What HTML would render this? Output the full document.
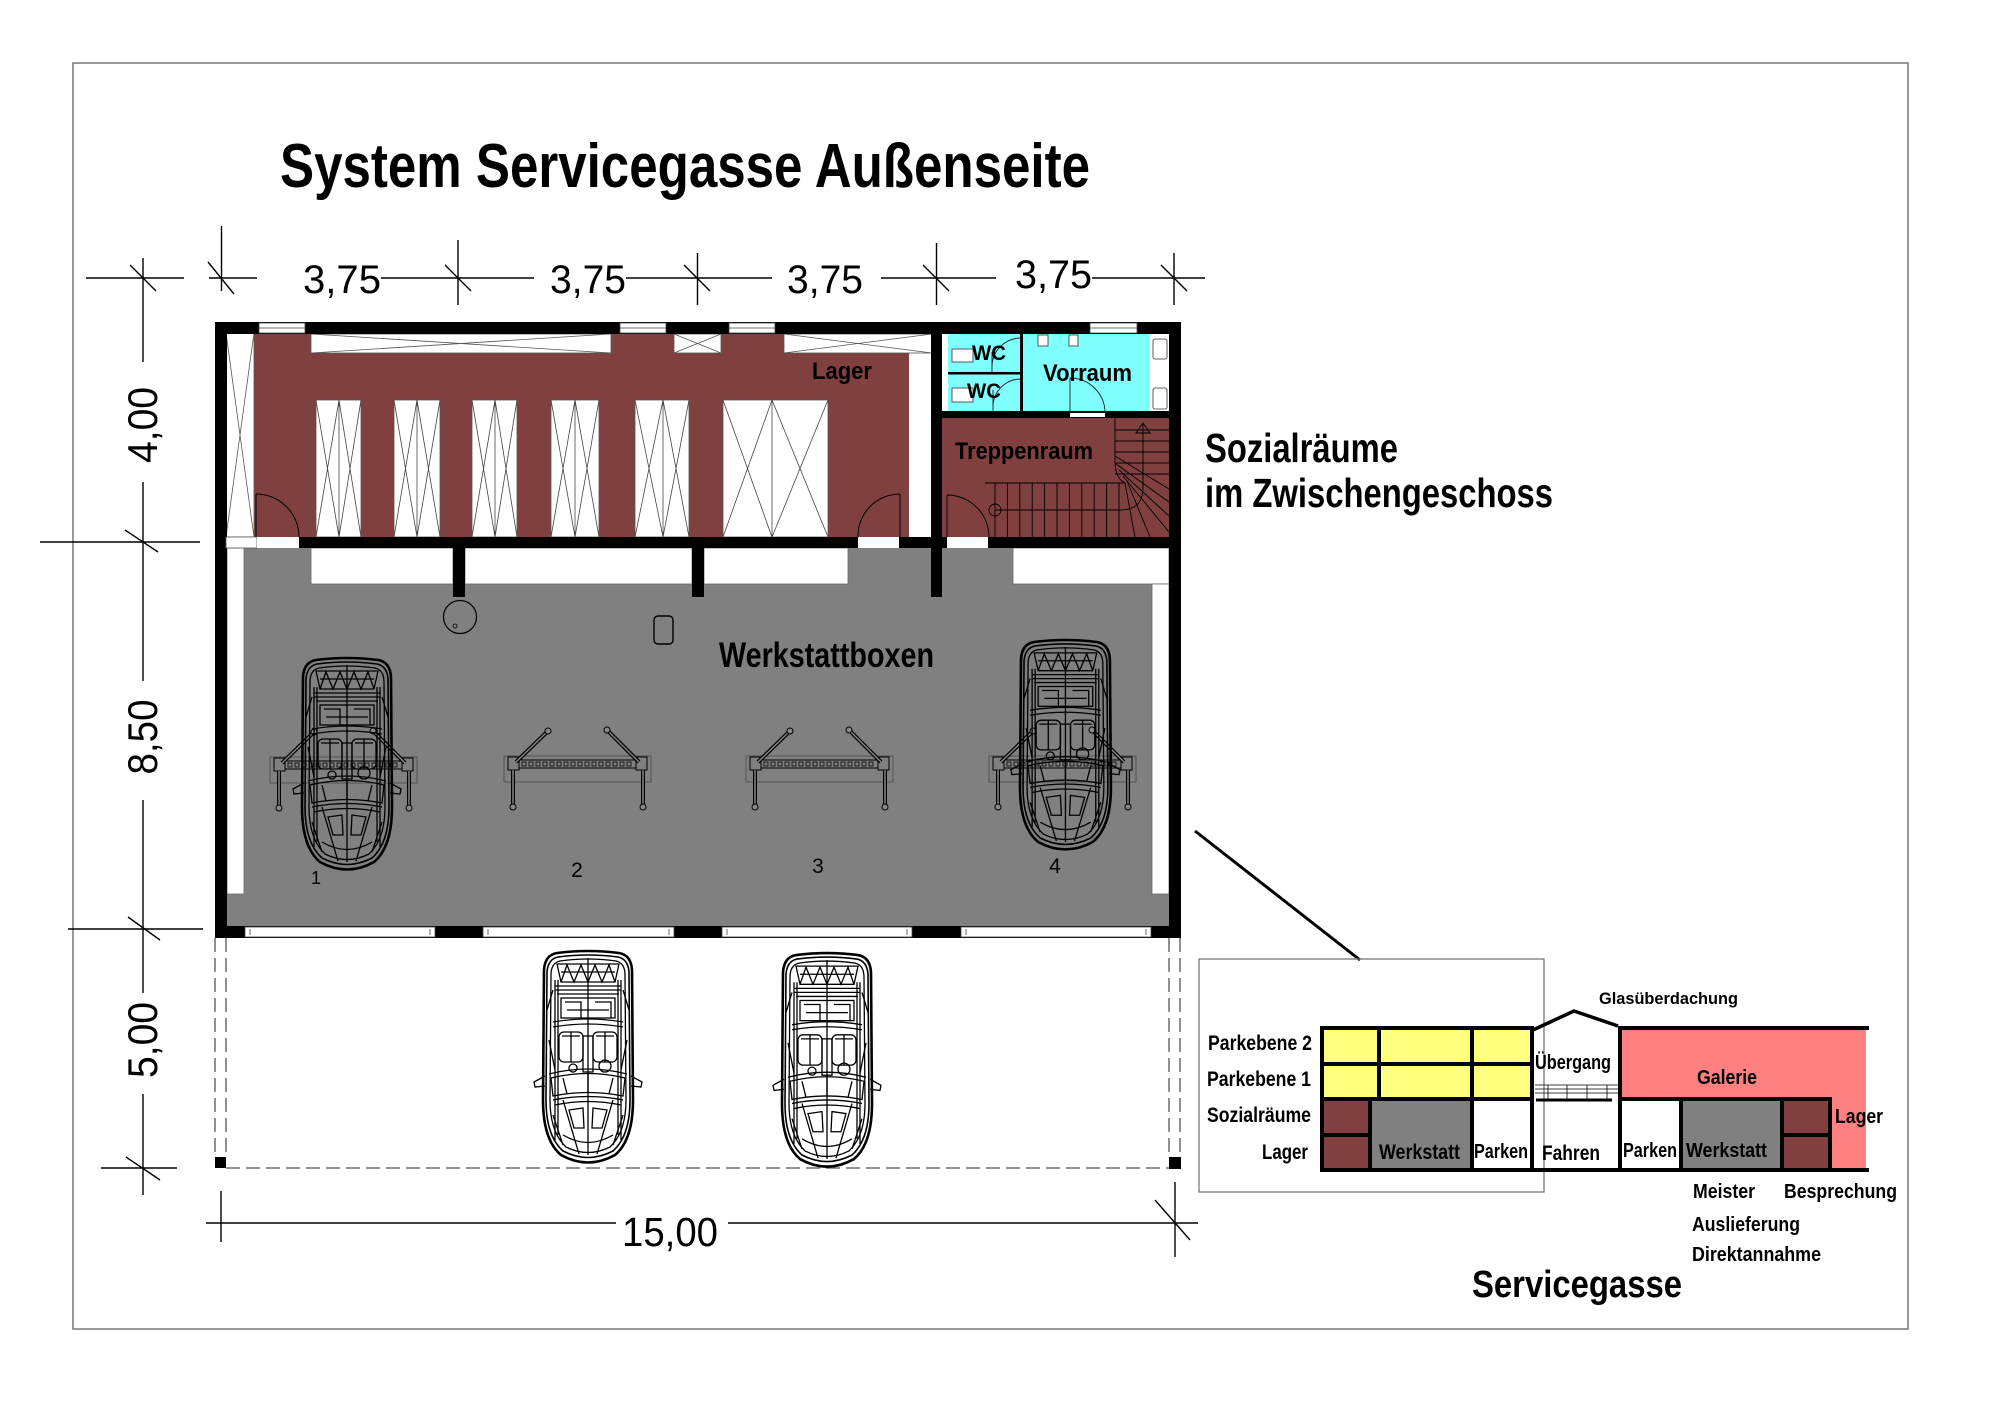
<!DOCTYPE html>
<html><head><meta charset="utf-8"><style>
html,body{margin:0;padding:0;background:#fff;}
svg{display:block;}
.b{font-family:'Liberation Sans Narrow','Liberation Sans',Arial,sans-serif;font-weight:bold;fill:#000;}
.r{font-family:'Liberation Sans',Arial,sans-serif;fill:#000;}
</style></head><body>
<svg width="2005" height="1417" viewBox="0 0 2005 1417" xmlns="http://www.w3.org/2000/svg">
<defs>
<g id="car" fill="none" stroke="#000" stroke-width="1.3">
<path d="M14,3 Q45,-1 76,3 Q88,5 89,20 L90,150 Q90,190 72,205 Q45,220 18,205 Q0,190 0,150 L1,20 Q2,5 14,3Z" stroke-width="2.6"/>
<path d="M15,7 Q45,3 75,7 Q85,9 86,22 L87,150 Q87,186 70,201 Q45,214 20,201 Q3,186 3,150 L4,22 Q5,9 15,7Z" stroke-width="1.6"/>
<path d="M17,11 Q45,7 73,11 Q82,13 82,25 L83,150 Q83,182 67,197 Q45,208 23,197 Q7,182 7,150 L8,25 Q8,13 17,11Z"/>
<path d="M14,14 L76,14 L72,32 L18,32Z"/>
<polyline points="18,32 24,15 31,32 38,15 45,32 52,15 59,32 66,15 72,32"/>
<line x1="18" y1="22" x2="72" y2="22"/>
<path d="M12,36 L78,36 M14,44 L76,44 M12,40 L78,40"/>
<rect x="18" y="48" width="54" height="20"/>
<path d="M22,52 L38,52 L38,68 M52,52 L68,52 L68,68 M24,60 L66,60"/>
<path d="M10,72 Q45,66 80,72 M10,77 Q45,71 80,77"/>
<rect x="16" y="82" width="24" height="30" rx="5"/>
<rect x="50" y="82" width="24" height="30" rx="5"/>
<path d="M19,86 L37,86 M53,86 L71,86 M28,82 V112 M62,82 V112"/>
<rect x="40" y="86" width="10" height="36"/>
<circle cx="62" cy="116" r="6"/>
<circle cx="30" cy="118" r="4"/>
<path d="M6,124 Q45,114 84,124"/>
<path d="M8,128 Q45,119 82,128 L80,146 Q45,139 10,146Z"/>
<path d="M20,128 L24,144 M70,128 L66,144 M45,122 L45,142"/>
<path d="M2,126 L-9,132 L-8,137 L2,136 M88,126 L99,132 L98,137 L88,136"/>
<path d="M10,150 Q45,143 80,150 M12,155 Q45,148 78,155"/>
<path d="M26,160 L40,158 L41,178 L31,178Z M50,158 L64,160 L59,178 L49,178Z"/>
<path d="M45,8 L45,205"/>
<path d="M12,30 L12,190 M78,30 L78,190 M15,30 L15,185 M75,30 L75,185"/>
<path d="M20,150 L36,204 M70,150 L54,204"/>
<path d="M10,40 L4,60 M80,40 L86,60 M6,90 L12,120 M84,90 L78,120"/>
<path d="M20,185 Q45,200 70,185 M10,165 L20,195 M80,165 L70,195"/>
</g>
<g id="lift">
<rect x="0" y="0" width="147" height="26" fill="none" stroke="#555" stroke-width="1"/>
<rect x="15" y="4" width="117" height="8" fill="none" stroke="#000" stroke-width="1"/>
<g fill="none" stroke="#000" stroke-width="0.8">
<rect x="18" y="6" width="4" height="4"/><rect x="25" y="6" width="4" height="4"/><rect x="32" y="6" width="4" height="4"/><rect x="39" y="6" width="4" height="4"/><rect x="46" y="6" width="4" height="4"/><rect x="53" y="6" width="4" height="4"/><rect x="60" y="6" width="4" height="4"/><rect x="67" y="6" width="4" height="4"/><rect x="74" y="6" width="4" height="4"/><rect x="81" y="6" width="4" height="4"/><rect x="88" y="6" width="4" height="4"/><rect x="95" y="6" width="4" height="4"/><rect x="102" y="6" width="4" height="4"/><rect x="109" y="6" width="4" height="4"/><rect x="116" y="6" width="4" height="4"/><rect x="123" y="6" width="4" height="4"/>
</g>
<rect x="4" y="1" width="11" height="13" fill="#808080" stroke="#000" stroke-width="1"/>
<rect x="132" y="1" width="11" height="13" fill="#808080" stroke="#000" stroke-width="1"/>
<line x1="12" y1="6" x2="44" y2="-25" stroke="#000" stroke-width="4"/>
<line x1="12" y1="6" x2="44" y2="-25" stroke="#888" stroke-width="1.5"/>
<circle cx="44" cy="-25" r="3" fill="#888" stroke="#000"/>
<line x1="135" y1="6" x2="103" y2="-26" stroke="#000" stroke-width="4"/>
<line x1="135" y1="6" x2="103" y2="-26" stroke="#888" stroke-width="1.5"/>
<circle cx="103" cy="-26" r="3" fill="#888" stroke="#000"/>
<line x1="9" y1="14" x2="9" y2="49" stroke="#000" stroke-width="4"/>
<line x1="9" y1="14" x2="9" y2="49" stroke="#888" stroke-width="1.5"/>
<circle cx="9" cy="51" r="3" fill="#888" stroke="#000"/>
<line x1="139" y1="14" x2="139" y2="49" stroke="#000" stroke-width="4"/>
<line x1="139" y1="14" x2="139" y2="49" stroke="#888" stroke-width="1.5"/>
<circle cx="139" cy="51" r="3" fill="#888" stroke="#000"/>
</g>
</defs>

<rect x="0" y="0" width="2005" height="1417" fill="#fff"/>
<rect x="73" y="63" width="1835" height="1266" fill="none" stroke="#777" stroke-width="1.5"/>

<text class="b" x="280" y="187" font-size="62" textLength="810" lengthAdjust="spacingAndGlyphs">System Servicegasse Außenseite</text>

<g stroke="#000" stroke-width="1.4" fill="none">
<path d="M86,278 H184 M209,278 H257 M381,278 H534 M626,278 H772 M881,278 H996 M1092,278 H1205"/>
<path d="M221.5,226 V291 M458,240 V305 M697.5,253 V305 M936.5,243 V305 M1174,253 V305"/>
<path d="M208,262 L234,294 M445,265 L471,291 M684,265 L710,291 M923,265 L949,291 M1161,265 L1187,291 M130,265 L156,291"/>
</g>
<text class="r" x="303" y="293" font-size="40" textLength="78" lengthAdjust="spacingAndGlyphs">3,75</text>
<text class="r" x="550" y="293" font-size="40" textLength="76" lengthAdjust="spacingAndGlyphs">3,75</text>
<text class="r" x="787" y="293" font-size="40" textLength="76" lengthAdjust="spacingAndGlyphs">3,75</text>
<text class="r" x="1015" y="288" font-size="40" textLength="77" lengthAdjust="spacingAndGlyphs">3,75</text>

<g stroke="#000" stroke-width="1.4" fill="none">
<path d="M143,258 V362 M143,482 V681 M143,800 V993 M143,1094 V1195"/>
<path d="M40,542 H200 M68,929 H203 M101,1168 H177"/>
<path d="M125,530 L158,552 M128,917 L160,940 M126,1157 L160,1180"/>
</g>
<text class="r" transform="translate(157,425) rotate(-90)" text-anchor="middle" font-size="42" textLength="76" lengthAdjust="spacingAndGlyphs">4,00</text>
<text class="r" transform="translate(157,737) rotate(-90)" text-anchor="middle" font-size="42" textLength="75" lengthAdjust="spacingAndGlyphs">8,50</text>
<text class="r" transform="translate(157,1040) rotate(-90)" text-anchor="middle" font-size="42" textLength="76" lengthAdjust="spacingAndGlyphs">5,00</text>

<g stroke="#000" stroke-width="1.4" fill="none">
<path d="M206,1223 H616 M728,1223 H1198"/>
<path d="M221,1191 V1242 M1175,1182 V1257 M1155,1200 L1190,1240"/>
</g>
<text class="r" x="622" y="1246" font-size="41" textLength="96" lengthAdjust="spacingAndGlyphs">15,00</text>

<!-- Lager -->
<rect x="226" y="333" width="705" height="204" fill="#804040"/>
<rect x="226" y="333" width="28" height="204" fill="#fff" stroke="#555" stroke-width="0.8"/>
<path d="M226,333 L254,537 M254,333 L226,537" stroke="#555" stroke-width="0.8"/>
<rect x="909" y="353" width="22" height="184" fill="#fff"/>
<g fill="#fff" stroke="#555" stroke-width="0.8">
<rect x="311" y="334" width="300" height="19"/>
<rect x="674" y="334" width="47" height="19"/>
<rect x="784" y="334" width="148" height="19"/>
</g>
<path d="M311,334 L611,353 M611,334 L311,353 M674,334 L721,353 M721,334 L674,353 M784,334 L932,353 M932,334 L784,353" stroke="#555" stroke-width="0.8" fill="none"/>
<g fill="#fff" stroke="#555" stroke-width="0.8">
<rect x="316" y="400" width="45" height="137"/>
<rect x="394" y="400" width="46" height="137"/>
<rect x="472" y="400" width="45" height="137"/>
<rect x="551" y="400" width="48" height="137"/>
<rect x="635" y="400" width="54" height="137"/>
<rect x="723" y="400" width="105" height="137"/>
</g>
<g stroke="#444" stroke-width="0.8" fill="none">
<path d="M339,400 V537 M316,400 L339,537 M339,400 L316,537 M339,400 L361,537 M361,400 L339,537"/>
<path d="M417,400 V537 M394,400 L417,537 M417,400 L394,537 M417,400 L440,537 M440,400 L417,537"/>
<path d="M495,400 V537 M472,400 L495,537 M495,400 L472,537 M495,400 L517,537 M517,400 L495,537"/>
<path d="M575,400 V537 M551,400 L575,537 M575,400 L551,537 M575,400 L599,537 M599,400 L575,537"/>
<path d="M663,400 V537 M635,400 L663,537 M663,400 L635,537 M663,400 L689,537 M689,400 L663,537"/>
<path d="M772,400 V537 M723,400 L772,537 M772,400 L723,537 M772,400 L828,537 M828,400 L772,537"/>
</g>
<g stroke="#000" stroke-width="1" fill="none">
<path d="M256,494 V537 M256,494 A43,43 0 0,1 299,537"/>
<path d="M900,494 V537 M900,494 A42,42 0 0,0 858,537"/>
</g>
<text class="b" x="812" y="379" font-size="24" textLength="60" lengthAdjust="spacingAndGlyphs">Lager</text>

<!-- Sozial -->
<rect x="942" y="334" width="227" height="77" fill="#fff"/>
<rect x="948" y="334" width="73" height="77" fill="#80ffff"/>
<rect x="1023" y="334" width="127" height="77" fill="#80ffff"/>
<rect x="1020" y="334" width="3" height="77" fill="#000"/>
<rect x="948" y="372" width="75" height="2.5" fill="#000"/>
<rect x="942" y="411" width="227" height="7" fill="#000"/>
<rect x="1070" y="413" width="35" height="4" fill="#fff"/>
<rect x="942" y="418" width="227" height="119" fill="#804040"/>
<g fill="#fff" stroke="#333" stroke-width="0.8">
<rect x="952" y="349" width="21" height="13"/>
<rect x="952" y="388" width="21" height="14"/>
<rect x="1038" y="335" width="10" height="11"/>
<rect x="1069" y="335" width="9" height="11"/>
<rect x="1153" y="339" width="14" height="20" rx="2"/>
<rect x="1153" y="388" width="14" height="21" rx="2"/>
</g>
<g stroke="#222" stroke-width="0.9" fill="none">
<path d="M1021,338 A29,29 0 0,0 992,367 M992,352 V372"/>
<path d="M1021,379 A28,28 0 0,0 993,407 M993,390 V411"/>
<path d="M1070,378 V413 M1070,378 A35,35 0 0,1 1105,413"/>
</g>
<text class="b" x="972" y="360" font-size="21" textLength="34" lengthAdjust="spacingAndGlyphs">WC</text>
<text class="b" x="967" y="398" font-size="21" textLength="34" lengthAdjust="spacingAndGlyphs">WC</text>
<text class="b" x="1043" y="381" font-size="24" textLength="89" lengthAdjust="spacingAndGlyphs">Vorraum</text>
<g stroke="#000" stroke-width="0.9" fill="none">
<path d="M985,483 H1125 Q1115,478 1115,461 V418"/>
<path d="M995,483 V537 M1007.4,483 V537 M1019.8,483 V537 M1032.2,483 V537 M1044.6,483 V537 M1057,483 V537 M1069.4,483 V537 M1081.8,483 V537 M1094.2,483 V537 M1106.6,483 V537 M1119,483 V537"/>
<path d="M1125,483 L1135,537 M1127,481 L1150,537 M1123,476 L1169,532 M1119,470 L1169,516 M1116,464 L1169,502 M1115,456 L1169,489"/>
<path d="M1115,430 H1169 M1115,441 H1169 M1115,452 H1169 M1115,463 H1169 M1115,474 H1169"/>
<path d="M995,510 H1120 Q1143,510 1143,488 V424"/>
<path d="M1136,433 L1143,423 L1150,433 Z"/>
<circle cx="995" cy="510" r="6"/>
<path d="M947,495 V537 M947,495 A42,42 0 0,1 989,537"/>
</g>
<text class="b" x="955" y="459" font-size="24" textLength="138" lengthAdjust="spacingAndGlyphs">Treppenraum</text>

<!-- Werkstatt -->
<rect x="227" y="548" width="942" height="378" fill="#808080"/>
<g fill="#fff" stroke="#666" stroke-width="0.8">
<rect x="227" y="548" width="17" height="346"/>
<rect x="311" y="548" width="142" height="36"/>
<rect x="465" y="548" width="227" height="36"/>
<rect x="704" y="548" width="144" height="36"/>
<rect x="1013" y="548" width="156" height="36"/>
<rect x="1152" y="584" width="17" height="310"/>
</g>
<circle cx="460" cy="617" r="16.5" fill="none" stroke="#000" stroke-width="1.2"/>
<circle cx="455" cy="626" r="2" fill="none" stroke="#000" stroke-width="0.8"/>
<rect x="654" y="616" width="19" height="28" rx="4" fill="none" stroke="#000" stroke-width="1.4"/>
<text class="b" x="719" y="667" font-size="35" textLength="215" lengthAdjust="spacingAndGlyphs">Werkstattboxen</text>

<use href="#lift" transform="translate(270,757)"/>
<use href="#lift" transform="translate(504,756)"/>
<use href="#lift" transform="translate(746,756)"/>
<use href="#lift" transform="translate(989,756)"/>
<use href="#car" transform="translate(302,657)"/>
<use href="#car" transform="translate(1020,639) scale(1.01,0.99)"/>

<text class="r" x="316" y="884" font-size="18" text-anchor="middle">1</text>
<text class="r" x="577" y="877" font-size="21" text-anchor="middle">2</text>
<text class="r" x="818" y="873" font-size="21" text-anchor="middle">3</text>
<text class="r" x="1055" y="873" font-size="21" text-anchor="middle">4</text>

<!-- walls -->
<g fill="#000">
<rect x="215" y="322" width="966" height="12"/>
<rect x="215" y="322" width="12" height="616"/>
<rect x="1169" y="322" width="12" height="616"/>
<rect x="931" y="334" width="11" height="263"/>
<rect x="215" y="537" width="966" height="11"/>
<rect x="453" y="548" width="12" height="49"/>
<rect x="692" y="548" width="12" height="49"/>
<rect x="215" y="926" width="966" height="12"/>
</g>
<rect x="226" y="537" width="31" height="11" fill="#fff" stroke="#555" stroke-width="0.8"/>
<rect x="257" y="537" width="42" height="11" fill="#fff"/>
<rect x="858" y="537" width="41" height="11" fill="#fff"/>
<rect x="947" y="537" width="41" height="11" fill="#fff"/>
<g fill="#fff" stroke="#444" stroke-width="0.8">
<rect x="259" y="323" width="46" height="10"/>
<rect x="620" y="323" width="46" height="10"/>
<rect x="729" y="323" width="46" height="10"/>
<rect x="1090" y="323" width="47" height="10"/>
</g>
<path d="M259,328 H305 M620,328 H666 M729,328 H775 M1090,328 H1137" stroke="#444" stroke-width="0.8"/>
<g fill="#fff" stroke="#444" stroke-width="0.8">
<rect x="245" y="927" width="190" height="10"/>
<rect x="483" y="927" width="191" height="10"/>
<rect x="722" y="927" width="190" height="10"/>
<rect x="961" y="927" width="190" height="10"/>
</g>
<path d="M250,929 V935 M430,929 V935 M488,929 V935 M669,929 V935 M727,929 V935 M907,929 V935 M966,929 V935 M1146,929 V935" stroke="#444" stroke-width="0.8"/>

<!-- parking -->
<g stroke="#555" stroke-width="1.3" stroke-dasharray="14 6" fill="none">
<path d="M215,938 V1157 M226,938 V1157 M1169,938 V1157 M1180,938 V1157"/>
<path d="M226,1168 H1169"/>
</g>
<rect x="215" y="1157" width="11" height="11" fill="#000"/>
<rect x="1169" y="1157" width="12" height="12" fill="#000"/>
<use href="#car" transform="translate(543,950)"/>
<use href="#car" transform="translate(782,952) scale(1,1.01)"/>

<text class="b" x="1205" y="462" font-size="41" textLength="193" lengthAdjust="spacingAndGlyphs">Sozialräume</text>
<text class="b" x="1205" y="507" font-size="41" textLength="348" lengthAdjust="spacingAndGlyphs">im Zwischengeschoss</text>

<line x1="1195" y1="831" x2="1360" y2="960" stroke="#000" stroke-width="3"/>
<rect x="1199" y="959" width="345" height="233" fill="none" stroke="#777" stroke-width="1.3"/>

<!-- Servicegasse diagram -->
<rect x="1322" y="1028" width="210" height="71" fill="#ffff80"/>
<rect x="1322" y="1099" width="48" height="71" fill="#804040"/>
<rect x="1370" y="1099" width="102" height="71" fill="#808080"/>
<rect x="1621" y="1028" width="245" height="143" fill="#ff8080"/>
<rect x="1621" y="1099" width="60" height="72" fill="#fff"/>
<rect x="1681" y="1099" width="101" height="72" fill="#808080"/>
<rect x="1782" y="1099" width="48" height="72" fill="#804040"/>
<g stroke="#000" stroke-width="4" fill="none" stroke-linecap="square">
<path d="M1322,1028 H1532 M1322,1064 H1532 M1322,1099 H1532 M1322,1170 H1867"/>
<path d="M1322,1028 V1170 M1379,1028 V1099 M1472,1028 V1170 M1532,1028 V1170 M1370,1099 V1170 M1322,1135 H1370"/>
<path d="M1620,1028 V1170 M1620,1028 H1867 M1620,1099 H1830 M1830,1099 V1170 M1681,1099 V1170 M1782,1099 V1170 M1782,1135 H1830"/>
</g>
<path d="M1533,1030 L1574,1011 L1618,1026" stroke="#000" stroke-width="3.5" fill="none"/>
<g stroke="#000" stroke-width="0.8" fill="none">
<path d="M1535,1085 H1619 M1535,1089 H1619 M1535,1093 H1619"/>
<path d="M1548,1085 V1099 M1567,1085 V1099 M1587,1085 V1099 M1607,1085 V1099"/>
</g>
<path d="M1536,1100 H1612" stroke="#000" stroke-width="3"/>

<g class="b">
<text x="1599" y="1004" font-size="17" textLength="139" lengthAdjust="spacingAndGlyphs">Glasüberdachung</text>
<text x="1208" y="1050" font-size="21" textLength="104" lengthAdjust="spacingAndGlyphs">Parkebene 2</text>
<text x="1207" y="1086" font-size="21" textLength="104" lengthAdjust="spacingAndGlyphs">Parkebene 1</text>
<text x="1207" y="1122" font-size="21" textLength="104" lengthAdjust="spacingAndGlyphs">Sozialräume</text>
<text x="1262" y="1159" font-size="21" textLength="46" lengthAdjust="spacingAndGlyphs">Lager</text>
<text x="1379" y="1159" font-size="21" textLength="81" lengthAdjust="spacingAndGlyphs">Werkstatt</text>
<text x="1474" y="1158" font-size="20" textLength="54" lengthAdjust="spacingAndGlyphs">Parken</text>
<text x="1542" y="1160" font-size="21" textLength="58" lengthAdjust="spacingAndGlyphs">Fahren</text>
<text x="1535" y="1069" font-size="20" textLength="76" lengthAdjust="spacingAndGlyphs">Übergang</text>
<text x="1697" y="1084" font-size="20" textLength="60" lengthAdjust="spacingAndGlyphs">Galerie</text>
<text x="1835" y="1123" font-size="20" textLength="48" lengthAdjust="spacingAndGlyphs">Lager</text>
<text x="1623" y="1157" font-size="20" textLength="54" lengthAdjust="spacingAndGlyphs">Parken</text>
<text x="1686" y="1157" font-size="20" textLength="81" lengthAdjust="spacingAndGlyphs">Werkstatt</text>
<text x="1693" y="1198" font-size="20" textLength="62" lengthAdjust="spacingAndGlyphs">Meister</text>
<text x="1784" y="1198" font-size="20" textLength="113" lengthAdjust="spacingAndGlyphs">Besprechung</text>
<text x="1692" y="1231" font-size="20" textLength="108" lengthAdjust="spacingAndGlyphs">Auslieferung</text>
<text x="1692" y="1261" font-size="20" textLength="129" lengthAdjust="spacingAndGlyphs">Direktannahme</text>
<text x="1472" y="1297" font-size="38" textLength="210" lengthAdjust="spacingAndGlyphs">Servicegasse</text>
</g>
</svg>
</body></html>
